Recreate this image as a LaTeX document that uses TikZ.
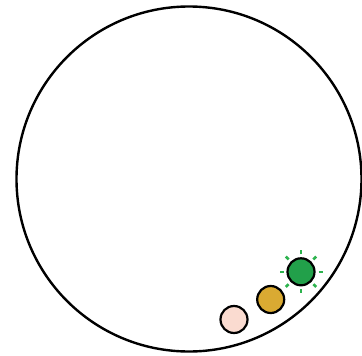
\documentclass[tikz,border=0pt]{standalone}
\usepackage{tikz}
\usetikzlibrary{calc}
\definecolor{pinkc}{HTML}{FADBD0}
\definecolor{goldc}{HTML}{DAAA32}
\definecolor{greenc}{HTML}{22A04A}
\definecolor{rayc}{HTML}{2DB34E}
\begin{document}
\begin{tikzpicture}[x=1pt,y=-1pt,
  ball/.style={circle,draw=black,line width=2.2pt,minimum size=27pt,inner sep=0pt},
  ray/.style={draw=rayc,line width=2.6pt}]
\useasboundingbox (0,0) rectangle (362,356);
\node[circle,draw=black,line width=2.4pt,minimum size=345pt,inner sep=0pt] (big) at (189,179) {};
\node[ball,fill=pinkc] (pink) at (234,319.5) {};
\node[ball,fill=goldc] (gold) at (270.7,299.5) {};
\node[ball,fill=greenc] (green) at (301,271.8) {};
\foreach \a in {0,45,...,315}{
  \draw[ray] ($(green)+(\a:17.5)$) -- ($(green)+(\a:21.5)$);
}
\end{tikzpicture}
\end{document}
